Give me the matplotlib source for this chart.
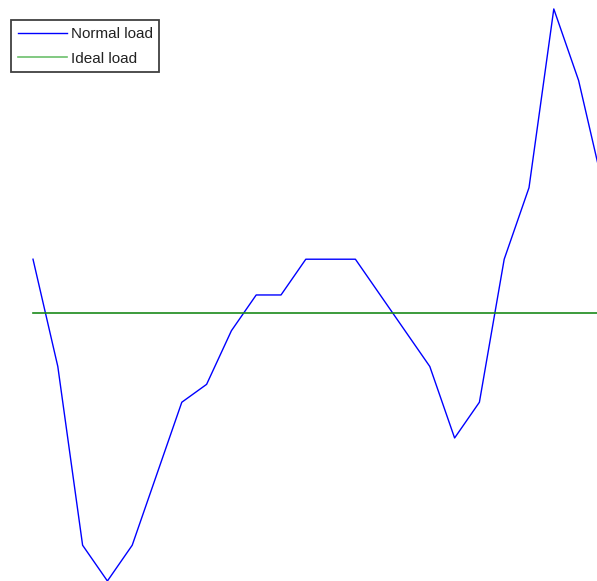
import numpy as np
import matplotlib
matplotlib.use("Agg")
import matplotlib.pyplot as plt

# Load readings (one per sample step) and the ideal load level
normal_load = [3, -3, -13, -15, -13, -9, -5, -4, -1, 1, 1, 3, 3, 3,
               1, -1, -3, -7, -5, 3, 7, 17, 13, 7]
ideal_load = 0
labels = ["Normal load", "Ideal load"]

plt.rcParams["font.family"] = ["Liberation Sans", "DejaVu Sans"]

fig = plt.figure(figsize=(5.97, 5.81), dpi=100)
ax = fig.add_axes([0, 0, 1, 1])
ax.set_axis_off()

steps = np.arange(len(normal_load))
ax.plot(steps, normal_load, color="#0000ff", lw=1.0, label=labels[0])
ax.axhline(ideal_load, xmin=(0 + 1.331) / (22.742 + 1.331), color="#1a8a1a",
           lw=1.2, label=labels[1])

# the source image is a crop, so the line runs off the right edge
ax.set_xlim(-1.331, 22.742)
ax.set_ylim(-15.0, 17.5)

leg = ax.legend(loc="upper left", bbox_to_anchor=(11 / 597, 1 - 20 / 581),
                bbox_transform=fig.transFigure, fontsize=11,
                fancybox=False, framealpha=1, edgecolor="#404040",
                handlelength=3.2, handletextpad=0.25, borderpad=0.45,
                borderaxespad=0, labelspacing=0.7)
leg.get_frame().set_linewidth(1.3)
leg.legend_handles[1].set_color("#6cc06c")
for t in leg.get_texts():
    t.set_color("#222222")

fig.savefig("out.png", dpi=100)
